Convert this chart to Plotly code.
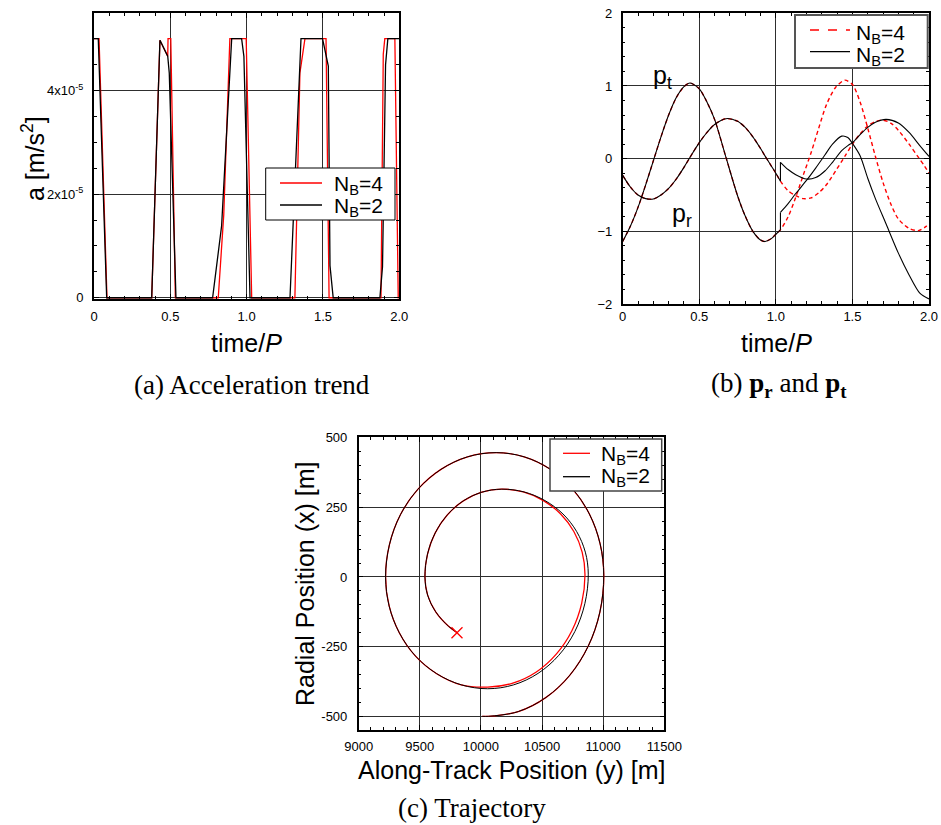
import plotly.graph_objects as go

# ---------------- data ----------------
# (a) thrust acceleration magnitude, units of 1e-5 m/s^2, versus time/P
t_acc_nb4 = [0, 0.033, 0.085, 0.378, 0.432, 0.483, 0.485, 0.503, 0.533, 0.814, 0.85, 0.89,
             0.997, 1.033, 1.316, 1.349, 1.382, 1.52, 1.54, 1.88, 1.895, 1.905, 1.971, 1.993, 2.0]
acc_nb4 = [5, 5, 0, 0, 4.97, 4.66, 5, 5, 0, 0, 1.6, 5,
           5, 0, 0, 4.34, 5, 5, 0, 0, 4.7, 5, 5, 0, 0]

t_acc_nb2 = [0, 0.028, 0.083, 0.378, 0.432, 0.483, 0.493, 0.537, 0.777, 0.836, 0.902,
             0.967, 0.982, 1.022, 1.284, 1.356, 1.497, 1.535, 1.546, 1.567, 1.873, 1.89,
             1.91, 1.925, 2.0]
acc_nb2 = [5, 5, 0, 0, 4.97, 4.66, 4.34, 0, 0, 1.39, 5,
           5, 4.66, 0, 0, 5, 5, 4.47, 0.62, 0, 0, 0.6,
           4.5, 5, 5]

# (b) costates p_t and p_r; identical for both cases up to the first switch
t_pre = [0, 0.05, 0.1, 0.15, 0.2, 0.25, 0.3, 0.35, 0.4, 0.44, 0.5, 0.55, 0.6, 0.674,
         0.75, 0.8, 0.85, 0.9, 0.93, 0.97, 1.0, 1.03]
pt_pre = [-1.14, -0.93, -0.67, -0.36, -0.03, 0.3, 0.6, 0.84, 0.99, 1.04, 0.96, 0.78, 0.54, 0.02,
          -0.51, -0.79, -1.0, -1.12, -1.14, -1.1, -1.04, -0.98]
pr_pre = [-0.23, -0.39, -0.5, -0.55, -0.555, -0.5, -0.41, -0.28, -0.12, 0.02, 0.22, 0.36, 0.47, 0.55,
          0.515, 0.43, 0.3, 0.14, 0.035, -0.1, -0.2, -0.31]

t_post_nb4 = [1.08, 1.13, 1.18, 1.23, 1.28, 1.33, 1.39, 1.45, 1.5, 1.55, 1.6, 1.65, 1.7,
              1.75, 1.8, 1.87, 1.93, 1.97, 2.0]
pt_post_nb4 = [-0.8, -0.53, -0.22, 0.08, 0.42, 0.74, 0.98, 1.08, 1.02, 0.78, 0.42, 0.03, -0.33,
               -0.62, -0.83, -0.96, -0.99, -0.95, -0.9]
pr_post_nb4 = [-0.44, -0.51, -0.55, -0.54, -0.47, -0.36, -0.17, 0.03, 0.2, 0.34, 0.45, 0.51, 0.53,
               0.49, 0.39, 0.2, 0.02, -0.1, -0.2]

t_post_nb2 = [1.03, 1.08, 1.13, 1.2, 1.26, 1.32, 1.37, 1.43, 1.47, 1.5, 1.55, 1.6, 1.65,
              1.72, 1.8, 1.87, 1.94, 2.0]
pt_post_nb2 = [-0.74, -0.62, -0.48, -0.3, -0.13, 0.05, 0.2, 0.31, 0.29, 0.21, 0.04, -0.27, -0.55,
               -0.9, -1.3, -1.6, -1.85, -1.93]
pr_post_nb2 = [-0.05, -0.15, -0.22, -0.28, -0.26, -0.17, -0.05, 0.11, 0.18, 0.22, 0.33, 0.43, 0.5,
               0.54, 0.49, 0.36, 0.18, 0.03]

# (c) relative trajectory: along-track y [m], radial x [m]
# outer revolution (common to both cases)
outer_y = [10010, 10060, 10305, 10533, 10728, 10878, 10973, 11005,
           10975, 10887, 10747, 10565, 10353, 10125,
           9891, 9673, 9485, 9341, 9251, 9220,
           9249, 9332, 9465, 9638, 9839]
outer_x = [-500, -500, -483, -432, -352, -248, -126, 5,
           119, 226, 317, 387, 431, 446,
           431, 386, 315, 223, 115, 0,
           -104, -200, -284, -347, -387]
# inner revolution, N_B = 2
inner_y_nb2 = [10055, 10268, 10467, 10637, 10768, 10850, 10878,
               10854, 10783, 10671, 10524, 10353, 10170,
               10007, 9856, 9726, 9626, 9563, 9542,
               9564, 9630, 9735, 9813]
inner_x_nb2 = [-401, -387, -346, -281, -196, -96, 10,
               89, 163, 226, 274, 305, 315,
               304, 273, 223, 158, 82, 0,
               -65, -125, -177, -202]
# inner revolution, N_B = 4
inner_y_nb4 = [10055, 10261, 10453, 10618, 10744, 10824, 10851,
               10828, 10760, 10652, 10511, 10346, 10170,
               10007, 9856, 9726, 9626, 9563, 9542,
               9564, 9630, 9735, 9804]
inner_x_nb4 = [-395, -381, -341, -276, -193, -95, 10,
               89, 163, 226, 274, 305, 315,
               304, 273, 223, 158, 82, 0,
               -65, -125, -177, -200]

# axis ticks
acc_tickvals = [0, 2e-5, 4e-5]
acc_ticktext = ["0", "2x10<sup>-5</sup>", "4x10<sup>-5</sup>"]
time_tickvals = [0, 0.5, 1.0, 1.5, 2.0]
time_ticktext = ["0", "0.5", "1.0", "1.5", "2.0"]
p_tickvals = [-2, -1, 0, 1, 2]
traj_y_ticks = [9000, 9500, 10000, 10500, 11000, 11500]
traj_x_ticks = [-500, -250, 0, 250, 500]

# ---------------- layout helpers ----------------
W, H = 941, 825
SANS = "Liberation Sans, Arial, sans-serif"
SERIF = "Liberation Serif, Times New Roman, serif"
RED = "#ff0000"


def px(x):
    return x / W


def py(y):
    return 1 - y / H


def axis(domain, rng, frame_w, minor_dtick, standoff=4, **kw):
    d = dict(domain=domain, range=rng, showline=True, linecolor="black", linewidth=frame_w,
             mirror="ticks", ticks="inside", ticklen=5, tickcolor="black", tickwidth=1,
             showgrid=True, gridcolor="#2e2e2e", gridwidth=1, zeroline=False,
             automargin=False,
             tickfont=dict(family=SANS, size=13, color="black"), ticklabelstandoff=standoff,
             minor=dict(dtick=minor_dtick, ticks="inside", ticklen=3, tickcolor="black",
                        showgrid=False),
             fixedrange=True)
    d.update(kw)
    return d


fig = go.Figure()

# ---- (a) acceleration ----
fig.add_trace(go.Scatter(x=t_acc_nb4, y=[v * 1e-5 for v in acc_nb4], mode="lines",
                         line=dict(color=RED, width=1.3), xaxis="x", yaxis="y"))
fig.add_trace(go.Scatter(x=t_acc_nb2, y=[v * 1e-5 for v in acc_nb2], mode="lines",
                         line=dict(color="black", width=1.3), xaxis="x", yaxis="y"))

# ---- (b) costates ----
for p_pre, p_post in ((pt_pre, pt_post_nb4), (pr_pre, pr_post_nb4)):
    fig.add_trace(go.Scatter(x=t_pre + t_post_nb4, y=p_pre + p_post, mode="lines",
                             line=dict(color=RED, width=1.4, dash="4px,3px", shape="spline",
                                       smoothing=0.8),
                             xaxis="x2", yaxis="y2"))
for p_pre, p_post in ((pt_pre, pt_post_nb2), (pr_pre, pr_post_nb2)):
    fig.add_trace(go.Scatter(x=t_pre, y=p_pre, mode="lines",
                             line=dict(color="black", width=1.1, shape="spline", smoothing=0.8),
                             xaxis="x2", yaxis="y2"))
    # switch discontinuity
    fig.add_trace(go.Scatter(x=[t_pre[-1], t_post_nb2[0]], y=[p_pre[-1], p_post[0]],
                             mode="lines", line=dict(color="black", width=1.1),
                             xaxis="x2", yaxis="y2"))
    fig.add_trace(go.Scatter(x=t_post_nb2, y=p_post, mode="lines",
                             line=dict(color="black", width=1.1, shape="spline", smoothing=0.8),
                             xaxis="x2", yaxis="y2"))

# ---- (c) trajectory ----
traj4_y = outer_y + inner_y_nb4
traj4_x = outer_x + inner_x_nb4
traj2_y = outer_y + inner_y_nb2
traj2_x = outer_x + inner_x_nb2
fig.add_trace(go.Scatter(x=traj4_y, y=traj4_x, mode="lines",
                         line=dict(color=RED, width=1.3, shape="spline", smoothing=1.0),
                         xaxis="x3", yaxis="y3"))
fig.add_trace(go.Scatter(x=traj2_y, y=traj2_x, mode="lines",
                         line=dict(color="black", width=1.0, shape="spline", smoothing=1.0),
                         xaxis="x3", yaxis="y3"))
fig.add_trace(go.Scatter(x=[traj4_y[-1]], y=[traj4_x[-1]], mode="markers",
                         marker=dict(symbol="x-thin", size=11, line=dict(color=RED, width=1.3)),
                         xaxis="x3", yaxis="y3"))

fig.update_layout(
    width=W, height=H, autosize=False, showlegend=False,
    margin=dict(l=0, r=0, t=0, b=0, pad=0),
    paper_bgcolor="white", plot_bgcolor="white",
    xaxis=axis([px(94), px(399.3)], [0, 2], 2, 0.1, standoff=4, anchor="y",
               tickvals=time_tickvals, ticktext=time_ticktext),
    yaxis=axis([py(299.3), py(13.3)], [-3e-7, 5.49e-5], 2, 0.5e-5, standoff=6, anchor="x",
               tickvals=acc_tickvals, ticktext=acc_ticktext),
    xaxis2=axis([px(622.7), px(929)], [0, 2], 1.5, 0.1, standoff=0, anchor="y2",
                tickvals=time_tickvals, ticktext=time_ticktext),
    yaxis2=axis([py(304), py(13.3)], [-2, 2], 1.5, 0.2, standoff=6, anchor="x2",
                tickvals=p_tickvals),
    xaxis3=axis([px(358.7), px(664.3)], [9000, 11500], 1.5, 100, standoff=4, anchor="y3",
                tickvals=traj_y_ticks, ticktext=[str(v) for v in traj_y_ticks]),
    yaxis3=axis([py(730), py(437.3)], [-549, 501], 1.5, 50, standoff=7, anchor="x3",
                tickvals=traj_x_ticks, ticktext=[str(v) for v in traj_x_ticks]),
)


def label(text, cx, cy, size, family=SANS, angle=0, xanchor="center"):
    fig.add_annotation(text=text, x=px(cx), y=py(cy), xref="paper", yref="paper",
                       showarrow=False, xanchor=xanchor, yanchor="middle",
                       textangle=angle, font=dict(family=family, size=size, color="black"))


# legend keys: framed box, line samples and entry names
def legend_box(x0, y0, x1, y1, border_color, border_w, rows):
    fig.add_shape(type="rect", xref="paper", yref="paper", x0=px(x0), x1=px(x1),
                  y0=py(y1), y1=py(y0), fillcolor="white",
                  line=dict(color=border_color, width=border_w), layer="above")
    for name, color, dash, lx0, lx1, ly, tx, ty in rows:
        fig.add_shape(type="line", xref="paper", yref="paper", x0=px(lx0), x1=px(lx1),
                      y0=py(ly), y1=py(ly), line=dict(color=color, width=1.3, dash=dash),
                      layer="above")
        label(name, tx, ty, 21, xanchor="left")


legend_box(265.7, 168, 395, 220, "black", 1, [
    ("N<sub>B</sub>=4", RED, "solid", 280, 322, 183, 332, 185),
    ("N<sub>B</sub>=2", "black", "solid", 280, 322, 205, 332, 207),
])
legend_box(795, 15, 927.7, 68, "#555555", 2, [
    ("N<sub>B</sub>=4", RED, "dash", 810, 850, 30, 854, 34),
    ("N<sub>B</sub>=2", "black", "solid", 810, 850, 51.7, 854, 56),
])
legend_box(550, 439, 661.7, 491, "#444444", 1.5, [
    ("N<sub>B</sub>=4", RED, "solid", 563, 590, 453.3, 599, 455),
    ("N<sub>B</sub>=2", "black", "solid", 563, 590, 476.7, 599, 477),
])

# axis titles
label("time/<i>P</i>", 246, 343, 25)
label("a [m/s<sup>2</sup>]", 33, 159, 25, angle=-90)
label("time/<i>P</i>", 776, 343, 25)
label("Along-Track Position (y) [m]", 511, 770, 25)
label("Radial Position (x) [m]", 305, 584, 25, angle=-90)

# sub-figure captions
label("(a) Acceleration trend", 251.5, 385, 27, family=SERIF)
label("(b) <b>p<sub>r</sub></b> and <b>p<sub>t</sub></b>", 779, 385, 27, family=SERIF)
label("(c) Trajectory", 472, 808, 27, family=SERIF)

# curve labels in (b)
fig.add_annotation(text="p<sub>t</sub>", x=0.257, y=1.12, xref="x2", yref="y2", showarrow=False,
                   font=dict(family=SANS, size=25, color="black"))
fig.add_annotation(text="p<sub>r</sub>", x=0.387, y=-0.77, xref="x2", yref="y2", showarrow=False,
                   font=dict(family=SANS, size=25, color="black"))

fig.write_html("out.html")
